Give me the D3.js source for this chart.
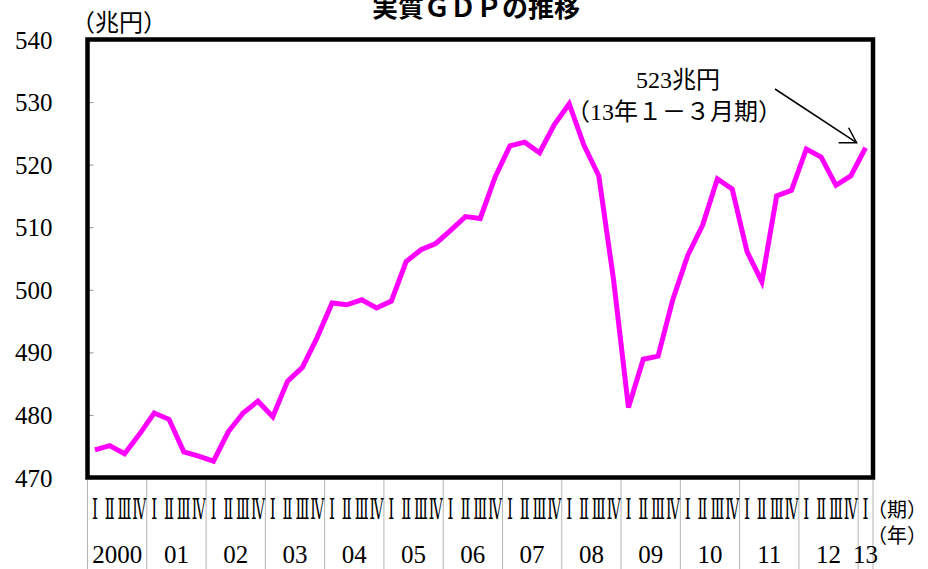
<!DOCTYPE html>
<html>
<head>
<meta charset="utf-8">
<script src="https://cdn.jsdelivr.net/npm/d3@7"></script>
<style>
  body { margin: 0; background: #fff; }
  text { font-family: "Liberation Serif", "Times New Roman", "Noto Sans CJK JP", serif; fill: #000; }
</style>
</head>
<body>
<div id="graph"></div>
<script>
"use strict";

let width = 928,
    height = 569;

// data (兆円, 2000 I - 2013 I)
const years = ["2000", "01", "02", "03", "04", "05", "06", "07", "08", "09", "10", "11", "12", "13"];
const quarterNames = ["Ⅰ", "Ⅱ", "Ⅲ", "Ⅳ"];
const gdp = [
    474.4, 475.1, 473.8, 476.9,
    480.3, 479.3, 474.1, 473.4,
    472.6, 477.3, 480.3, 482.2,
    479.7, 485.4, 487.6, 492.4,
    497.9, 497.6, 498.4, 497.1,
    498.2, 504.5, 506.4, 507.4,
    509.5, 511.7, 511.4, 518.0,
    523.0, 523.6, 521.9, 526.4,
    529.7, 523.1, 518.2, 501.5,
    481.2, 488.9, 489.4, 498.5,
    505.5, 510.3, 517.7, 516.1,
    506.1, 501.3, 515.0, 515.9,
    522.5, 521.2, 516.7, 518.2,
    522.7
];
const yTicks = [470, 480, 490, 500, 510, 520, 530, 540];

const plot = { left: 87.5, right: 873, top: 39.5, bottom: 477.5 };

// one entry per quarter: year index + quarter index
let points = gdp.map((v, i) => ({
    key: i,
    year: Math.floor(i / 4),
    q: i % 4,
    value: v
}));

let svg = d3.select("#graph")
    .append("svg")
    .attr("width", width)
    .attr("height", height);

let x = d3.scaleBand()
    .domain(points.map(d => d.key))
    .range([plot.left, plot.right]);

let y = d3.scaleLinear()
    .domain([470, 540])
    .range([plot.bottom, plot.top]);

// title (top is clipped in the original)
svg.append("text")
    .attr("x", 476)
    .attr("y", 17)
    .attr("text-anchor", "middle")
    .style("font-family", "'Noto Sans CJK JP', sans-serif")
    .style("font-weight", "bold")
    .style("font-size", "26px")
    .text("実質ＧＤＰの推移");

svg.append("text")
    .attr("x", 71)
    .attr("y", 31)
    .style("font-size", "24px")
    .text("（兆円）");

// y axis: small grey ticks inside the frame, labels far left
let yAxis = svg.append("g")
    .attr("transform", "translate(" + plot.left + ",0)")
    .call(d3.axisLeft(y).tickValues(yTicks).tickSizeInner(-6).tickSizeOuter(0).tickPadding(35).tickFormat(d3.format("d")));
yAxis.select(".domain").remove();
yAxis.selectAll(".tick line").attr("stroke", "#999");
yAxis.selectAll(".tick text")
    .attr("dy", "0.34em")
    .style("font-size", "25px");

// the line
let line = d3.line()
    .x(d => x(d.key) + x.bandwidth() / 2)
    .y(d => y(d.value));

svg.append("path")
    .datum(points)
    .attr("fill", "none")
    .attr("stroke", "#ff00ff")
    .attr("stroke-width", 5)
    .attr("stroke-linejoin", "miter")
    .attr("d", line);

// frame
svg.append("rect")
    .attr("x", plot.left)
    .attr("y", plot.top)
    .attr("width", plot.right - plot.left)
    .attr("height", plot.bottom - plot.top)
    .attr("fill", "none")
    .attr("stroke", "#000")
    .attr("stroke-width", 4.5);

// x axis table: year separators
let firstOfYear = points.filter(d => d.q == 0);
let sepX = firstOfYear.map(d => x(d.key)).concat([plot.right]);
svg.append("g")
    .selectAll("line")
    .data(sepX)
    .enter()
    .append("line")
    .attr("x1", d => d)
    .attr("x2", d => d)
    .attr("y1", 480)
    .attr("y2", height)
    .attr("stroke", "#b4b4b4")
    .attr("stroke-width", 1);

// quarter labels (squeezed to fit, as in the original)
const qWidth = [6, 10, 14, 14];
svg.append("g")
    .selectAll("text")
    .data(points)
    .enter()
    .append("text")
    .attr("x", d => x(d.key) + x.bandwidth() / 2)
    .attr("y", 519)
    .attr("text-anchor", "middle")
    .attr("textLength", d => qWidth[d.q])
    .attr("lengthAdjust", "spacingAndGlyphs")
    .style("font-family", "'DejaVu Serif', 'Noto Sans CJK JP', serif")
    .style("font-size", "27px")
    .text(d => quarterNames[d.q]);

// year labels, centred on the quarters of each year
svg.append("g")
    .selectAll("text")
    .data(years)
    .enter()
    .append("text")
    .attr("x", (d, i) => {
        let qs = points.filter(p => p.year == i);
        let x0 = x(qs[0].key);
        let x1 = x(qs[qs.length - 1].key) + x.bandwidth();
        return (x0 + x1) / 2;
    })
    .attr("y", 563)
    .attr("text-anchor", "middle")
    .style("font-size", "25px")
    .text(d => d);

svg.append("text")
    .attr("x", 867)
    .attr("y", 517)
    .style("font-size", "20px")
    .text("（期）");
svg.append("text")
    .attr("x", 867)
    .attr("y", 543)
    .style("font-size", "20px")
    .text("（年）");

// annotation for the last quarter
let last = points[points.length - 1];
let tipX = x(last.key) + x.bandwidth() / 2 - 9,
    tipY = y(last.value) - 5;

svg.append("text")
    .attr("x", 678)
    .attr("y", 88)
    .attr("text-anchor", "middle")
    .style("font-size", "24px")
    .text("523兆円");
svg.append("text")
    .attr("x", 674)
    .attr("y", 120)
    .attr("text-anchor", "middle")
    .style("font-size", "24px")
    .text("（13年１－３月期）");

let arrow = svg.append("g")
    .attr("stroke", "#000")
    .attr("stroke-width", 1.5)
    .attr("fill", "none");
arrow.append("line")
    .attr("x1", 775).attr("y1", 89)
    .attr("x2", tipX).attr("y2", tipY);
arrow.append("path")
    .attr("d", "M" + (tipX - 8) + "," + (tipY - 15) + "L" + tipX + "," + tipY + "L" + (tipX - 18) + "," + tipY);
</script>
</body>
</html>
